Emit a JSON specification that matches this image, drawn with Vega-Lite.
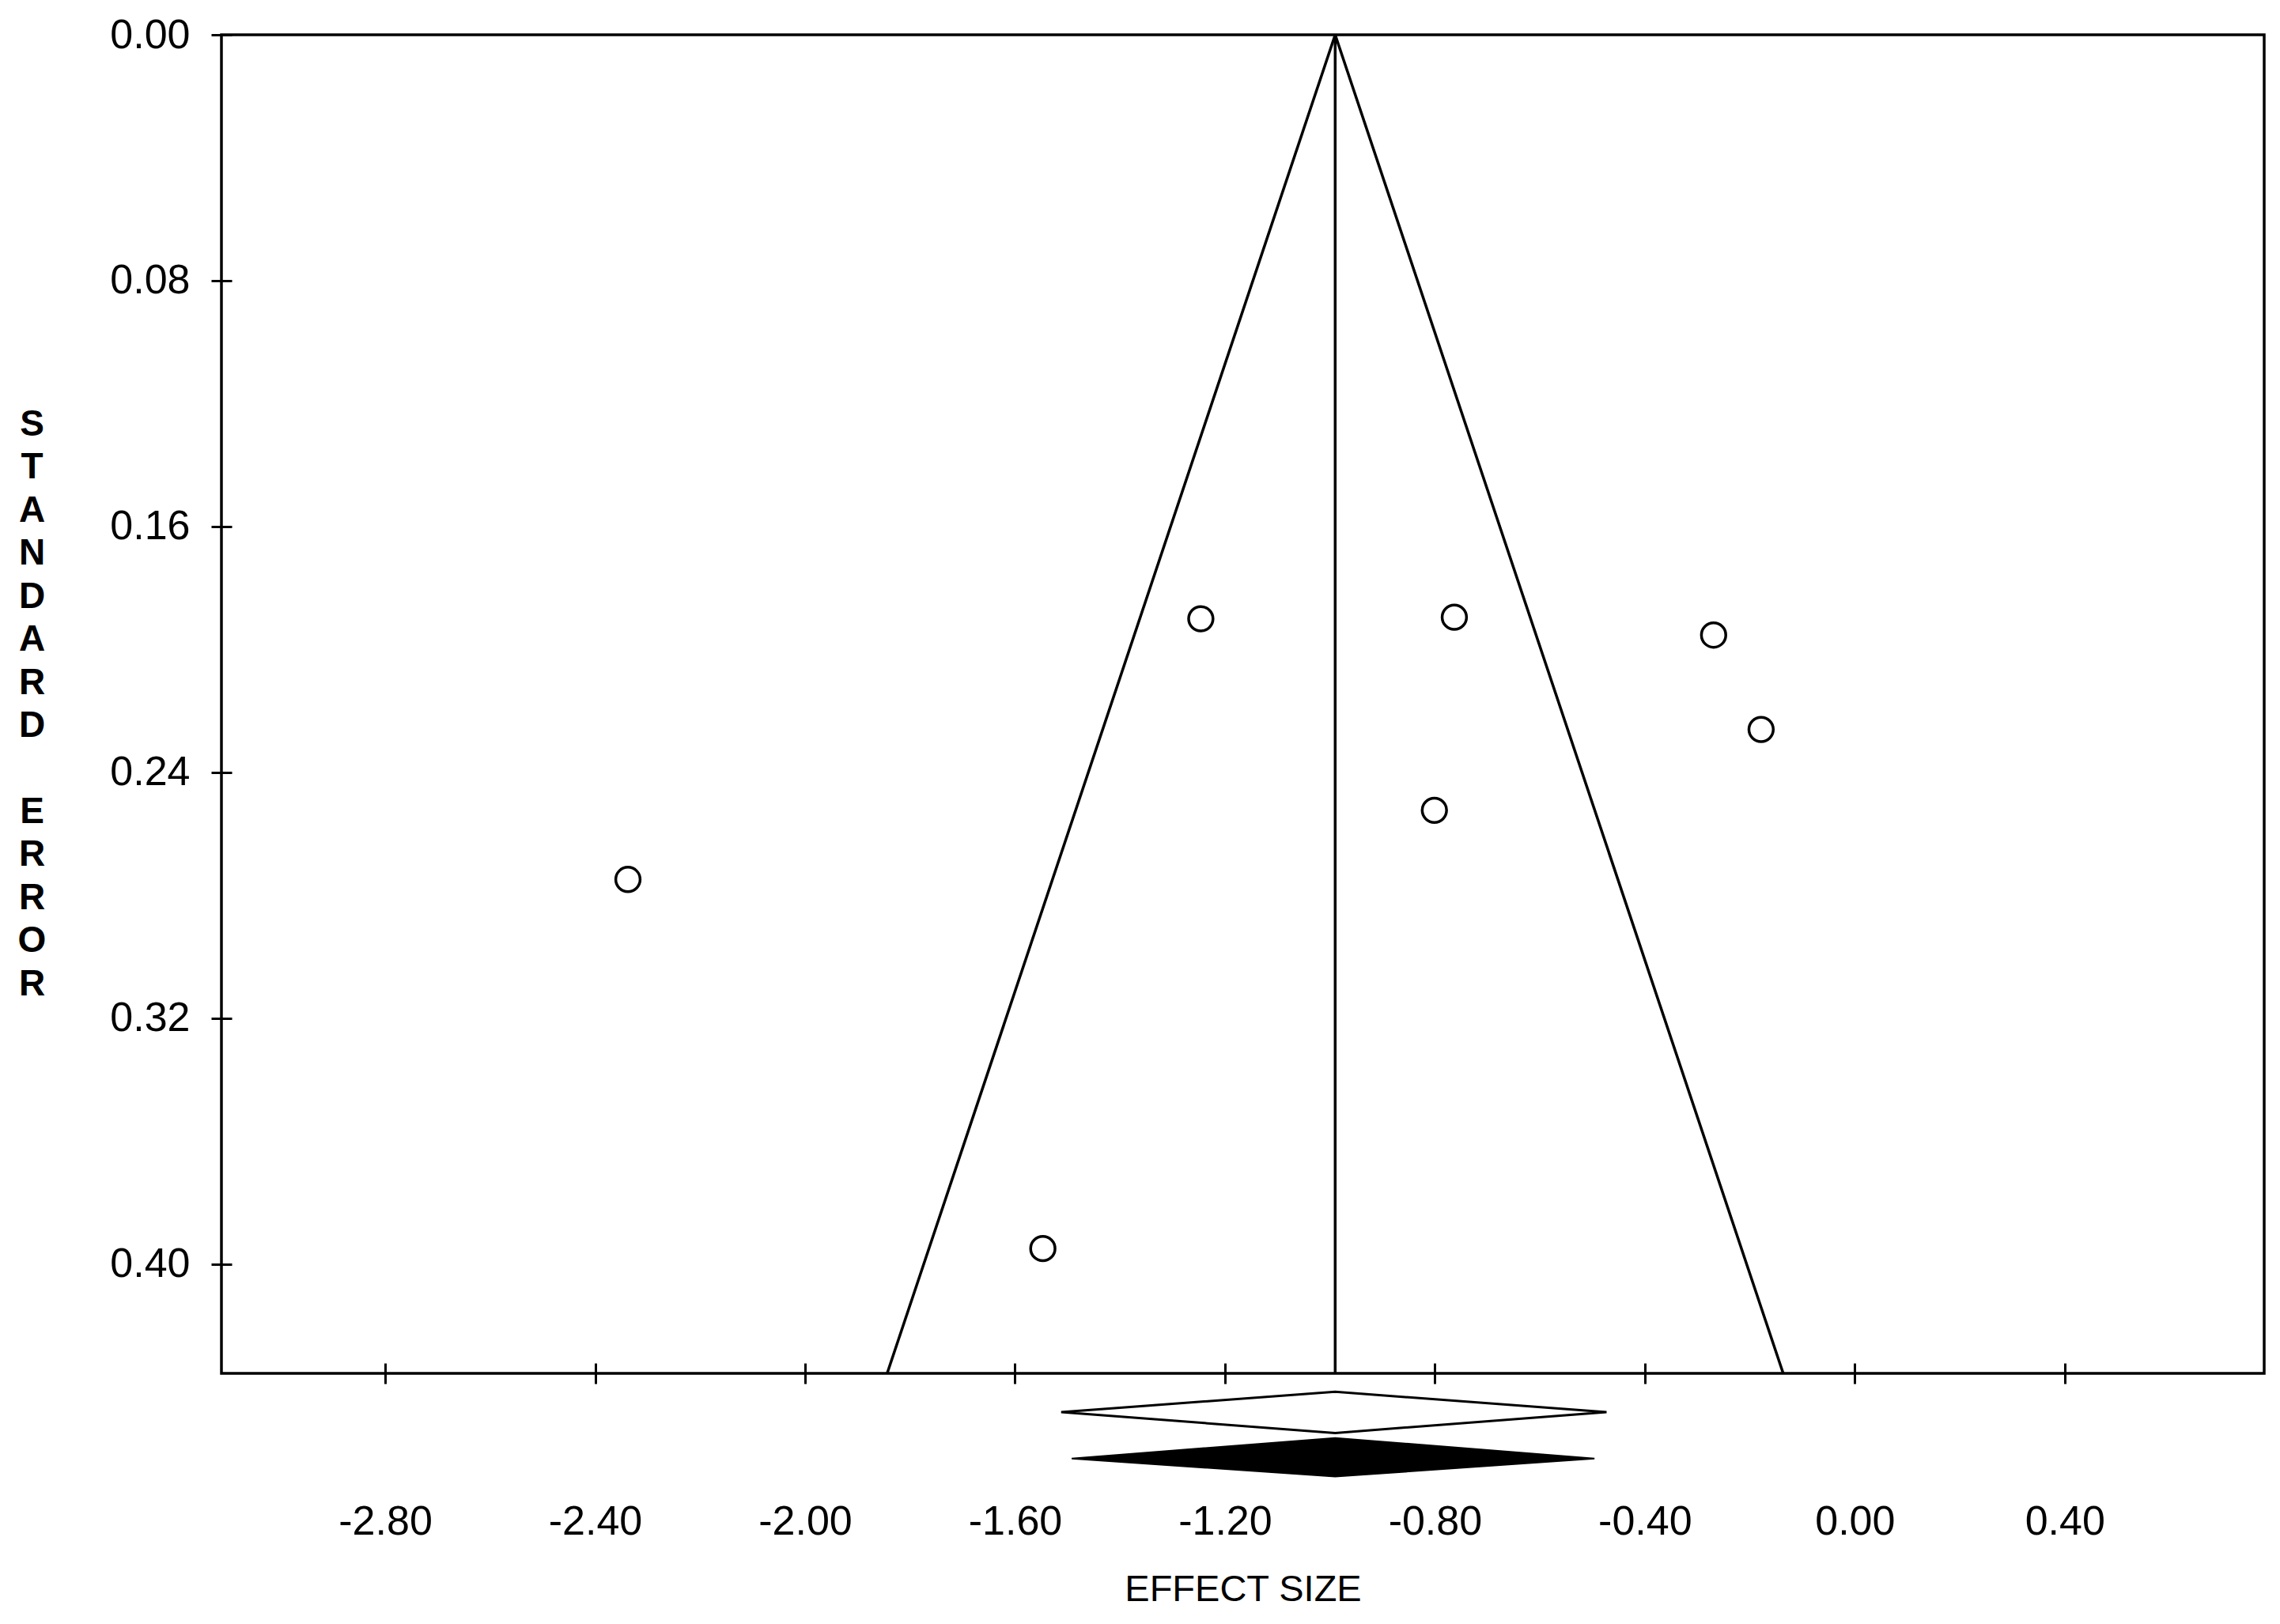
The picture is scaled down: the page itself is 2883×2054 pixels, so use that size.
{
  "$schema": "https://vega.github.io/schema/vega-lite/v6.json",
  "width": 2583,
  "height": 1693,
  "autosize": "none",
  "padding": {"left": 280, "top": 44, "right": 20, "bottom": 317},
  "background": "white",
  "config": {
    "view": {"stroke": "black", "strokeWidth": 3.5},
    "font": "Liberation Sans",
    "axis": {
      "labelFont": "Liberation Sans",
      "labelFontSize": 52,
      "labelColor": "black",
      "tickColor": "black",
      "tickWidth": 3,
      "domain": false,
      "grid": false,
      "titleColor": "black",
      "titleFont": "Liberation Sans"
    }
  },
  "datasets": {
    "studies": [
      {"es": -1.246, "se": 0.190},
      {"es": -0.763, "se": 0.1895},
      {"es": -0.269, "se": 0.1953},
      {"es": -0.1785, "se": 0.226},
      {"es": -0.801, "se": 0.2523},
      {"es": -2.3375, "se": 0.2748},
      {"es": -1.547, "se": 0.3949}
    ],
    "funnel": [
      {"side": "L", "es": -0.99, "se": 0},
      {"side": "L", "es": -1.8436, "se": 0.4355},
      {"side": "R", "es": -0.99, "se": 0},
      {"side": "R", "es": -0.1364, "se": 0.4355}
    ],
    "center": [
      {"es": -0.99, "se0": 0, "se1": 0.4355}
    ],
    "diamonds": [
      {"d": "open", "es": -1.512, "top": 0.4481, "bot": 0.4481},
      {"d": "open", "es": -0.99, "top": 0.4415, "bot": 0.4549},
      {"d": "open", "es": -0.473, "top": 0.4481, "bot": 0.4481},
      {"d": "filled", "es": -1.492, "top": 0.4632, "bot": 0.4632},
      {"d": "filled", "es": -0.99, "top": 0.4565, "bot": 0.4691},
      {"d": "filled", "es": -0.496, "top": 0.4632, "bot": 0.4632}
    ]
  },
  "layer": [
    {
      "data": {"name": "funnel"},
      "mark": {"type": "line", "color": "black", "strokeWidth": 3.5},
      "encoding": {
        "x": {
          "field": "es", "type": "quantitative",
          "scale": {"domain": [-3.112, 0.78], "nice": false, "zero": false},
          "axis": {
            "orient": "bottom",
            "values": [-2.8, -2.4, -2.0, -1.6, -1.2, -0.8, -0.4, 0.0, 0.4],
            "format": ".2f",
            "labelExpr": "replace(datum.label, '\u2212', '-')",
            "tickSize": 13,
            "labelPadding": 149,
            "labelFlush": false,
            "labelOverlap": false,
            "title": "EFFECT SIZE",
            "titleFontSize": 47,
            "titleFontWeight": "normal",
            "titleBaseline": "top",
            "titleY": 250
          }
        },
        "y": {
          "field": "se", "type": "quantitative",
          "scale": {"domain": [0, 0.4355], "nice": false, "zero": false, "reverse": true},
          "axis": {
            "orient": "left",
            "values": [0, 0.08, 0.16, 0.24, 0.32, 0.40],
            "format": ".2f",
            "tickSize": 13,
            "labelPadding": 27,
            "labelFlush": false,
            "labelOverlap": false,
            "labelBaseline": "middle",
            "title": ["S", "T", "A", "N", "D", "A", "R", "D"],
            "titleFontSize": 46,
            "titleFontWeight": "bold",
            "titleLineHeight": 54.5,
            "titleAngle": 0,
            "titleAlign": "center",
            "titleBaseline": "top",
            "titleX": -240,
            "titleY": 470
          }
        },
        "detail": {"field": "side"}
      }
    },
    {
      "data": {"name": "center"},
      "mark": {"type": "rule", "color": "black", "strokeWidth": 3.5},
      "encoding": {
        "x": {
          "field": "es", "type": "quantitative",
          "axis": {
            "orient": "bottom",
            "values": [-2.8, -2.4, -2.0, -1.6, -1.2, -0.8, -0.4, 0.0, 0.4],
            "tickSize": -13,
            "labels": false,
            "title": null
          }
        },
        "y": {
          "field": "se0", "type": "quantitative",
          "axis": {
            "orient": "left",
            "values": [0, 0.08, 0.16, 0.24, 0.32, 0.40],
            "tickSize": -13,
            "labels": false,
            "title": ["E", "R", "R", "O", "R"],
            "titleFontSize": 46,
            "titleFontWeight": "bold",
            "titleLineHeight": 54.5,
            "titleAngle": 0,
            "titleAlign": "center",
            "titleBaseline": "top",
            "titleX": -240,
            "titleY": 960
          }
        },
        "y2": {"field": "se1"}
      }
    },
    {
      "data": {"name": "diamonds"},
      "transform": [{"filter": "datum.d === 'open'"}],
      "mark": {"type": "area", "orient": "vertical", "fill": "white", "stroke": "black", "strokeWidth": 3},
      "encoding": {
        "x": {"field": "es", "type": "quantitative", "axis": null},
        "y": {"field": "top", "type": "quantitative", "axis": null, "stack": null},
        "y2": {"field": "bot"}
      }
    },
    {
      "data": {"name": "diamonds"},
      "transform": [{"filter": "datum.d === 'filled'"}],
      "mark": {"type": "area", "orient": "vertical", "fill": "black", "stroke": "black", "strokeWidth": 2},
      "encoding": {
        "x": {"field": "es", "type": "quantitative", "axis": null},
        "y": {"field": "top", "type": "quantitative", "axis": null, "stack": null},
        "y2": {"field": "bot"}
      }
    },
    {
      "data": {"name": "studies"},
      "mark": {"type": "point", "shape": "circle", "filled": false, "stroke": "black", "strokeWidth": 3.5, "size": 950, "opacity": 1},
      "encoding": {
        "x": {"field": "es", "type": "quantitative", "axis": null},
        "y": {"field": "se", "type": "quantitative", "axis": null}
      }
    }
  ],
  "resolve": {"axis": {"x": "independent", "y": "independent"}}
}
